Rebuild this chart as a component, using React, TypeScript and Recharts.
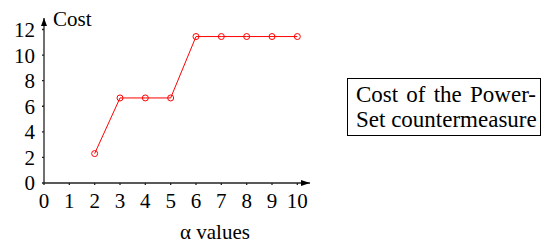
import { LineChart, Line, XAxis, YAxis, ReferenceDot } from "recharts"

const alphaValues = [2, 3, 4, 5, 6, 7, 8, 9, 10]
const costValues = [2.3, 6.65, 6.65, 6.65, 11.45, 11.45, 11.45, 11.45, 11.45]
const xTicks = [0, 1, 2, 3, 4, 5, 6, 7, 8, 9, 10]
const yTicks = [0, 2, 4, 6, 8, 10, 12]
const legendLines = ["Cost of the Power-", "Set countermeasure"]

const data = alphaValues.map((a, i) => ({ alpha: a, cost: costValues[i] }))

const X_MAX = 10.5
const Y_MAX = 12.9
const font = "Liberation Serif, serif"

const ArrowRight = (props: any) => {
  const { cx, cy } = props
  return <polygon points={`${cx},${cy} ${cx - 9},${cy - 3} ${cx - 9},${cy + 3}`} fill="#000" />
}

const ArrowUp = (props: any) => {
  const { cx, cy } = props
  return <polygon points={`${cx},${cy} ${cx - 3},${cy + 8} ${cx + 3},${cy + 8}`} fill="#000" />
}

const XTitle = (props: any) => {
  const { viewBox } = props
  return (
    <text x={viewBox.x + 171} y={239} textAnchor="middle" fontSize={21} style={{ fontFamily: font }} fill="#000">
      α values
    </text>
  )
}

const YTitle = (props: any) => {
  const { viewBox } = props
  return (
    <text x={viewBox.x + viewBox.width + 9} y={26} fontSize={21} style={{ fontFamily: font }} fill="#000">
      Cost
    </text>
  )
}

export default function App() {
  return (
    <div style={{ position: "absolute", left: 0, top: 0, width: 545, height: 244, background: "#fff", fontFamily: font }}>
      <LineChart
        width={545}
        height={244}
        data={data}
        margin={{ top: 18, right: 235, left: 4, bottom: 0 }}
        style={{ fontFamily: font }}
      >
        <XAxis
          type="number"
          dataKey="alpha"
          domain={[0, X_MAX]}
          ticks={xTicks}
          interval={0}
          height={61}
          stroke="#222"
          strokeWidth={1.3}
          tickSize={2}
          tickMargin={8}
          tick={{ fontSize: 21, fill: "#000", style: { fontFamily: font } }}
          label={<XTitle />}
        />
        <YAxis
          type="number"
          domain={[0, Y_MAX]}
          ticks={yTicks}
          interval={0}
          width={40}
          stroke="#222"
          strokeWidth={1.3}
          tickSize={2}
          tickMargin={7}
          tick={{ fontSize: 21, fill: "#000", style: { fontFamily: font } }}
          label={<YTitle />}
        />
        <ReferenceDot x={X_MAX} y={0} r={0} ifOverflow="visible" shape={<ArrowRight />} />
        <ReferenceDot x={0} y={Y_MAX} r={0} ifOverflow="visible" shape={<ArrowUp />} />
        <Line
          type="linear"
          dataKey="cost"
          stroke="#ff0000"
          strokeWidth={1}
          dot={{ r: 3, stroke: "#ff0000", strokeWidth: 1, fill: "none" }}
          isAnimationActive={false}
        />
      </LineChart>
      <div
        style={{
          position: "absolute",
          left: 347,
          top: 78,
          width: 194,
          height: 58,
          border: "1px solid #000",
          boxSizing: "border-box",
          padding: "4px 0 0 8px",
          fontSize: 23,
          lineHeight: "24.5px",
        }}
      >
        {legendLines.map((l) => (
          <div key={l} style={{ width: 180, textAlign: "justify", textAlignLast: "justify", whiteSpace: "nowrap" }}>
            {l}
          </div>
        ))}
      </div>
    </div>
  )
}
